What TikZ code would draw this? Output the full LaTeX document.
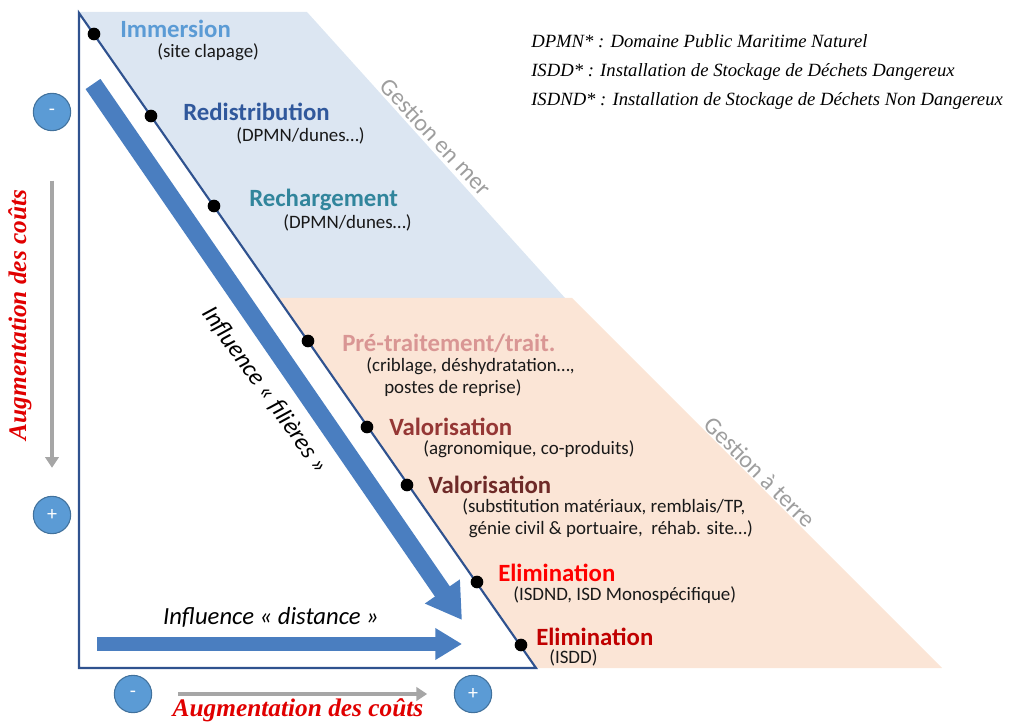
\documentclass[tikz,border=0pt]{standalone}
\usepackage{fontspec}
\setmainfont{Carlito}
\newfontfamily\legendfont{Liberation Serif}
\usetikzlibrary{arrows.meta}

\definecolor{merbg}{HTML}{DCE6F2}
\definecolor{terrebg}{HTML}{FBE5D6}
\definecolor{cadre}{HTML}{2F528F}
\definecolor{fleche}{HTML}{4A7EC0}
\definecolor{pastillefill}{HTML}{5B9BD5}
\definecolor{pastillebord}{HTML}{41719C}
\definecolor{gristexte}{HTML}{9E9E9E}
\definecolor{grisfleche}{HTML}{A6A6A6}
\definecolor{coutsrouge}{HTML}{E00000}
\definecolor{cImmersion}{HTML}{5B9BD5}
\definecolor{cRedistrib}{HTML}{30589C}
\definecolor{cRecharge}{HTML}{31859C}
\definecolor{cPretrait}{HTML}{D99694}
\definecolor{cValoA}{HTML}{953735}
\definecolor{cValoB}{HTML}{6E2A28}
\definecolor{cElimA}{HTML}{FF0000}
\definecolor{cElimB}{HTML}{C00000}

\begin{document}
\begin{tikzpicture}[
    x=0.75pt, y=-0.75pt,
    titre/.style={anchor=west, inner sep=0pt, font=\bfseries\fontsize{18.6}{22}\selectfont},
    sous/.style={anchor=west, inner sep=0pt, align=left, text=black!90, font=\fontsize{14.2}{16.5}\selectfont},
    dot/.style={circle, fill=black, inner sep=0pt, minimum size=9.5pt},
    pastille/.style={circle, draw=pastillebord, fill=pastillefill, thick, minimum size=28pt, inner sep=0pt, text=white, font=\fontsize{15}{15}\selectfont},
    gestion/.style={text=gristexte, font=\fontsize{18}{18}\selectfont},
    influence/.style={text=black, font=\itshape\fontsize{18.5}{18.5}\selectfont},
    couts/.style={text=coutsrouge, font=\legendfont\bfseries\itshape\fontsize{19}{19}\selectfont},
    grisarr/.style={grisfleche, line width=3pt, -{Triangle[length=8pt, width=10pt]}},
    grosfleche/.style={fleche, line width=13.5pt, -{Triangle[length=26pt, width=30pt]}},
    moyfleche/.style={fleche, line width=10.5pt, -{Triangle[length=20pt, width=22.5pt]}}
]
\useasboundingbox (0,0) rectangle (1017,727);

% ---------- Zones ----------
\fill[merbg] (79,12) -- (307,12) -- (565,298) -- (278,298) -- cycle;
\fill[terrebg] (278,298) -- (572,298) -- (942,668) -- (536,668) -- cycle;

% ---------- Triangle ----------
\coordinate (sommet)  at (79,13);
\coordinate (coin)    at (536,668);
\coordinate (origine) at (79,668);
\draw[cadre, line width=1.6pt, line join=miter] (sommet) -- (coin) -- (origine) -- cycle;

% ---------- Big arrows ----------
\coordinate (filA)  at (93,84);
\coordinate (filB)  at (462,620);
\coordinate (distA) at (97,644);
\coordinate (distB) at (462,644);
\draw[grosfleche] (filA) -- (filB);
\draw[moyfleche] (distA) -- (distB);

\node[influence, rotate=-54.5] (filieres) at (265,390) {Influence « filières »};
\node[influence] (distance) at (271,617) {Influence « distance »};

% ---------- Dots ----------
\node[dot] (d1) at (94,34)  {};
\node[dot] (d2) at (151,116) {};
\node[dot] (d3) at (214,206) {};
\node[dot] (d4) at (308,341) {};
\node[dot] (d5) at (367,427) {};
\node[dot] (d6) at (407,485) {};
\node[dot] (d7) at (477,582) {};
\node[dot] (d8) at (521,645) {};

% ---------- Filieres ----------
\node[titre, text=cImmersion] (immersion) at (120,29) {Immersion};
\node[sous] (immersionsub) at (157,52) {(site clapage)};

\node[titre, text=cRedistrib] (redistrib) at (183,112) {Redistribution};
\node[sous] (redistribsub) at (236,136) {(DPMN/dunes…)};

\node[titre, text=cRecharge] (recharge) at (249,200) {Rechargement};
\node[sous] (rechargesub) at (283,223) {(DPMN/dunes…)};

\node[titre, text=cPretrait] (pretrait) at (342,343) {Pré-traitement/trait.};
\node[sous] (pretraitsub) at (366,377) {(criblage, déshydratation…,\\\hspace*{13.5pt}postes de reprise)};

\node[titre, text=cValoA] (valoA) at (389,427) {Valorisation};
\node[sous] (valoAsub) at (423,449) {(agronomique, co-produits)};

\node[titre, text=cValoB] (valoB) at (428,485) {Valorisation};
\node[sous] (valoBsub) at (462,518) {(substitution matériaux, remblais/TP,\\\hspace*{5pt}génie civil \& portuaire,\ \ réhab. site…)};

\node[titre, text=cElimA] (elimA) at (498,573) {Elimination};
\node[sous] (elimAsub) at (513,595) {(ISDND, ISD Monospécifique)};

\node[titre, text=cElimB] (elimB) at (536,637) {Elimination};
\node[sous] (elimBsub) at (549,658) {(ISDD)};

% ---------- Gestion labels ----------
\node[gestion, rotate=-47] (gmer) at (436,137) {Gestion en mer};
\node[gestion, rotate=-45] (gterre) at (760,472) {Gestion à terre};

% ---------- Legend ----------
\node[anchor=west, align=left, inner sep=0pt, font=\legendfont\itshape\fontsize{14}{21.4}\selectfont] (legende) at (531,72)
    {DPMN* : Domaine Public Maritime Naturel\\
     ISDD* : Installation de Stockage de Déchets Dangereux\\
     ISDND* : Installation de Stockage de Déchets Non Dangereux};

% ---------- Costs ----------
\node[pastille] (moinsV) at (52,112) {-};
\node[pastille] (plusV)  at (52,515) {+};
\node[pastille] (moinsH) at (133,694) {-};
\node[pastille] (plusH)  at (473,694) {+};

\draw[grisarr, shorten <=37pt, shorten >=21pt] (moinsV) -- (plusV);
\draw[grisarr, shorten <=19.5pt, shorten >=20pt] (moinsH) -- (plusH);

\node[couts, rotate=90] (coutsV) at (20,315) {Augmentation des coûts};
\node[couts] (coutsH) at (298,710) {Augmentation des coûts};

\end{tikzpicture}
\end{document}
